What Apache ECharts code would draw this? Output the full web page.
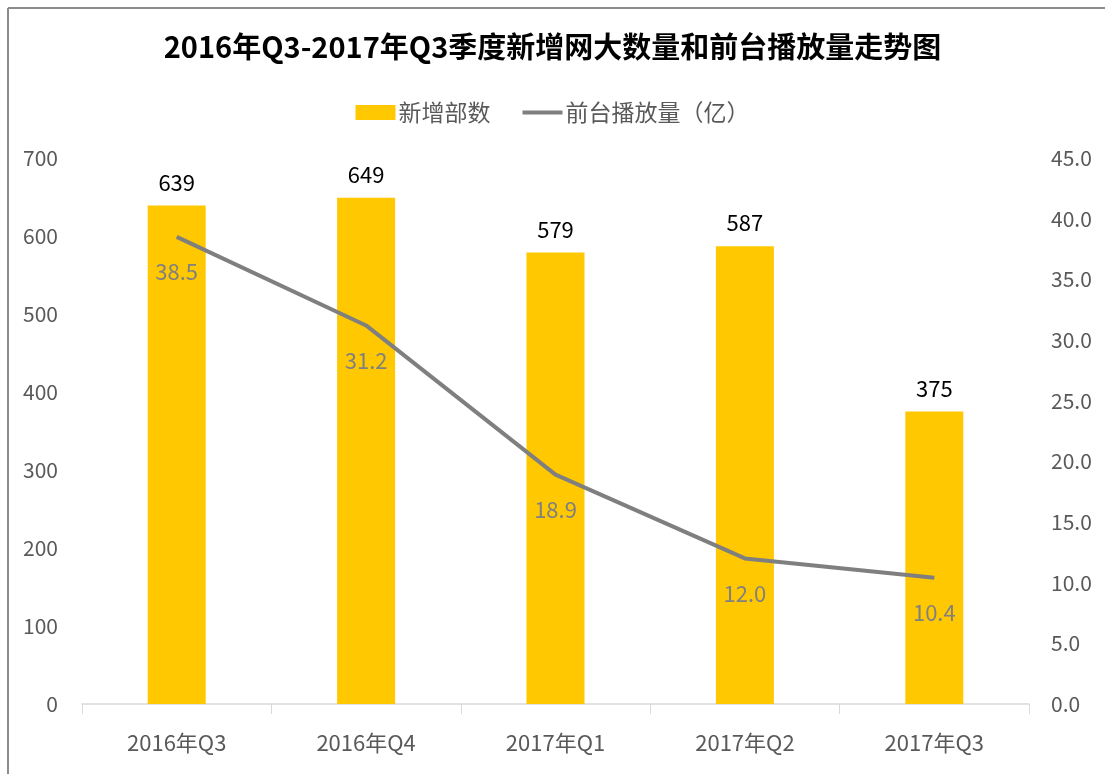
<!DOCTYPE html>
<html>
<head>
<meta charset="utf-8">
<script src="https://cdn.jsdelivr.net/npm/echarts@6/dist/echarts.min.js"></script>
<style>
  html, body { margin: 0; padding: 0; background: #fff; }
  #chart { width: 1105px; height: 774px; }
</style>
</head>
<body>
<div id="chart"></div>
<script>
const categories = ['2016年Q3', '2016年Q4', '2017年Q1', '2017年Q2', '2017年Q3']
const newCount = [639, 649, 579, 587, 375]
const playVolume = [38.5, 31.2, 18.9, 12.0, 10.4]
const font = '"Noto Sans CJK SC", "Noto Sans", sans-serif'

const chart = echarts.init(document.getElementById('chart'))
chart.setOption({
  animation: false,
  textStyle: { fontFamily: font },
  // frame of the original picture (only top and left edges visible)
  graphic: [
    { type: 'line', shape: { x1: 8, y1: 8, x2: 1105, y2: 8 }, style: { stroke: '#8c8c8c', lineWidth: 2 } },
    { type: 'line', shape: { x1: 8, y1: 8, x2: 8, y2: 774 }, style: { stroke: '#8c8c8c', lineWidth: 2 } }
  ],
  title: {
    text: '2016年Q3-2017年Q3季度新增网大数量和前台播放量走势图',
    left: 'center',
    top: 27,
    textStyle: { color: '#000', fontSize: 29, fontWeight: 'bold', fontFamily: font }
  },
  legend: {
    top: 96,
    left: 'center',
    itemGap: 32,
    itemWidth: 40,
    itemHeight: 15,
    textStyle: { color: '#595959', fontSize: 23, fontFamily: font, padding: [0, 0, 0, -2] },
    data: [
      { name: '新增部数', icon: 'rect' },
      { name: '前台播放量（亿）', icon: 'path://M0,0 L100,0 L100,10 L0,10 Z', itemStyle: { color: '#7f7f7f' } }
    ]
  },
  grid: { left: 82, right: 76, top: 158, bottom: 70 },
  xAxis: {
    type: 'category',
    data: categories,
    axisLine: { lineStyle: { color: '#d9d9d9', width: 1.5 } },
    axisTick: { show: true, length: 10, lineStyle: { color: '#d9d9d9' } },
    axisLabel: { color: '#595959', fontSize: 22, margin: 28 }
  },
  yAxis: [
    {
      type: 'value',
      min: 0,
      max: 700,
      interval: 100,
      splitLine: { show: false },
      axisLine: { show: false },
      axisTick: { show: false },
      axisLabel: { color: '#595959', fontSize: 21, margin: 24 }
    },
    {
      type: 'value',
      min: 0,
      max: 45,
      interval: 5,
      splitLine: { show: false },
      axisLine: { show: false },
      axisTick: { show: false },
      axisLabel: { color: '#595959', fontSize: 21, margin: 22, formatter: (v) => v.toFixed(1) }
    }
  ],
  series: [
    {
      name: '新增部数',
      type: 'bar',
      data: newCount,
      barWidth: 58,
      itemStyle: { color: '#ffc800' },
      label: { show: true, position: 'top', distance: 12, color: '#000', fontSize: 22 }
    },
    {
      name: '前台播放量（亿）',
      type: 'line',
      yAxisIndex: 1,
      data: playVolume,
      symbol: 'circle',
      symbolSize: 0.1,
      lineStyle: { color: '#7f7f7f', width: 4 },
      itemStyle: { color: '#7f7f7f' },
      label: {
        show: true,
        position: 'bottom',
        distance: 24,
        color: '#808080',
        fontSize: 22,
        formatter: (p) => p.value.toFixed(1)
      }
    }
  ]
})
</script>
</body>
</html>
